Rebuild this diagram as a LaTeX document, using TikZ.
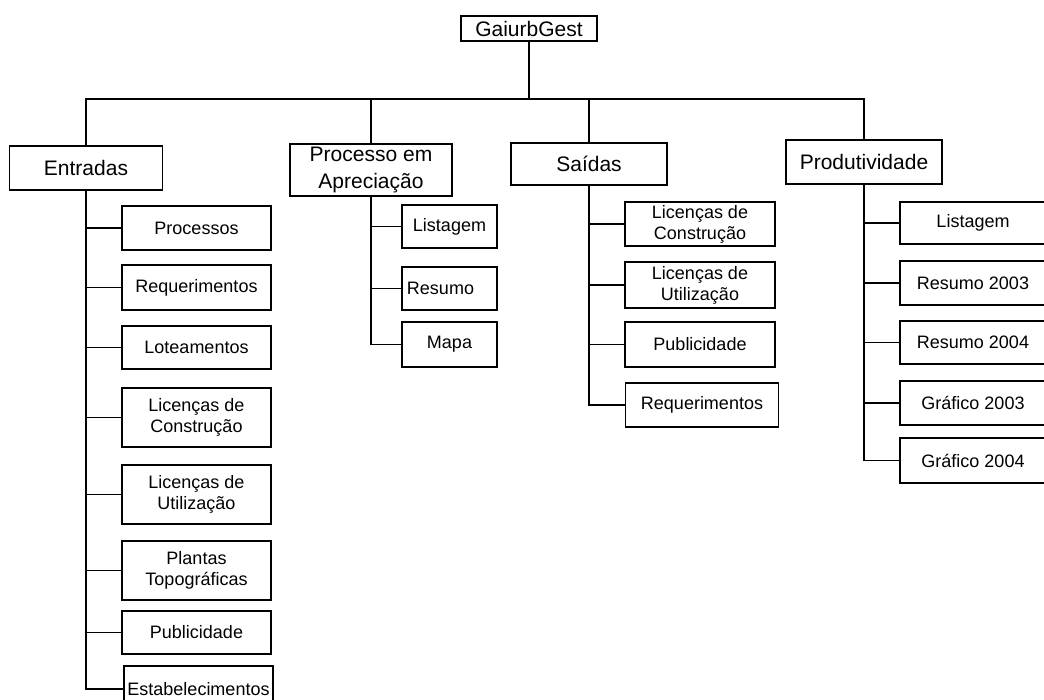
\documentclass[tikz,border=0pt]{standalone}
\usepackage{fontspec}
\setmainfont{Liberation Sans}
\begin{document}
\begin{tikzpicture}[x=0.75pt,y=-0.75pt,
  line width=1pt,
  box/.style={draw, line width=1pt, inner sep=1pt, align=center},
  topbox/.style={box, font=\fontsize{15.75pt}{20.25pt}\selectfont},
  subbox/.style={box, font=\fontsize{13.5pt}{15.75pt}\selectfont},
  link/.style={draw, line width=1pt}]
\useasboundingbox (0,0) rectangle (1044,699);
\clip (0,0) rectangle (1044,699);
\newcommand\bx[6]{\node[#1, minimum width=#4*0.75pt, minimum height=#5*0.75pt] (#2) at (#3) {#6};}
% root
\bx{topbox}{root}{529,28.5}{136}{25}{GaiurbGest}
\coordinate (bus) at (529,99);
% top level
\bx{topbox}{ent}{86,168}{153}{44}{Entradas}
\bx{topbox}{proc}{371,170}{162}{52}{Processo em\\Apreciação}
\bx{topbox}{sai}{589,164}{156}{42}{Saídas}
\bx{topbox}{prod}{864,162}{156}{44}{Produtividade}
\draw[link] (root.south) -- (bus);
\foreach \n in {ent,proc,sai,prod} \draw[link] (\n.north) |- (bus);
% Entradas children
\bx{subbox}{e1}{196.5,228}{149}{44}{Processos}
\bx{subbox}{e2}{196.5,287.5}{149}{45}{Requerimentos}
\bx{subbox}{e3}{196.5,347.5}{149}{43}{Loteamentos}
\bx{subbox}{e4}{196.5,417.5}{149}{59}{Licenças de\\Construção}
\bx{subbox}{e5}{196.5,494.5}{149}{59}{Licenças de\\Utilização}
\bx{subbox}{e6}{196.5,570.5}{149}{59}{Plantas\\Topográficas}
\bx{subbox}{e7}{196.5,632.5}{149}{43}{Publicidade}
\bx{subbox}{e8}{198.5,689}{149}{46}{Estabelecimentos}
\foreach \n in {e1,e2,e3,e4,e5,e6,e7,e8} \draw[link] (ent.south) |- (\n.west);
% Processo children
\bx{subbox}{p1}{449.5,226.5}{95}{43}{Listagem}
\bx{subbox}{p2}{449.5,288.5}{95}{43}{Resumo\hspace{13.5pt}}
\bx{subbox}{p3}{449.5,344.5}{95}{45}{Mapa}
\foreach \n in {p1,p2,p3} \draw[link] (proc.south) |- (\n.west);
% Saidas children
\bx{subbox}{s1}{700,224}{150}{44}{Licenças de\\Construção}
\bx{subbox}{s2}{700,285}{150}{46}{Licenças de\\Utilização}
\bx{subbox}{s3}{700,344.5}{150}{45}{Publicidade}
\bx{subbox}{s4}{702,405}{153}{44}{Requerimentos}
\foreach \n in {s1,s2,s3,s4} \draw[link] (sai.south) |- (\n.west);
% Produtividade children
\bx{subbox}{r1}{973,223}{146}{42}{Listagem}
\bx{subbox}{r2}{973,283}{146}{44}{Resumo 2003}
\bx{subbox}{r3}{973,342.5}{146}{43}{Resumo 2004}
\bx{subbox}{r4}{973,403}{146}{44}{Gráfico 2003}
\bx{subbox}{r5}{973,460.5}{146}{45}{Gráfico 2004}
\foreach \n in {r1,r2,r3,r4,r5} \draw[link] (prod.south) |- (\n.west);
\end{tikzpicture}
\end{document}
